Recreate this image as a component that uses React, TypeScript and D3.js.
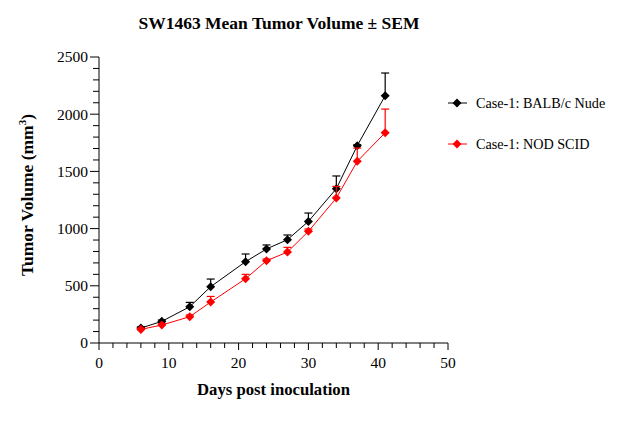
import * as d3 from "d3";

// Measurement days and mean tumour volume (mm³) per group, with SEM
const days = [6, 9, 13, 16, 21, 24, 27, 30, 34, 37, 41];
const nudeMean = [131, 189, 317, 492, 711, 822, 903, 1063, 1349, 1725, 2162];
const nudeSem = [10, 12, 38, 67, 67, 35, 41, 73, 111, 8, 198];
const scidMean = [119, 157, 230, 358, 562, 719, 795, 976, 1267, 1588, 1838];
const scidSem = [10, 12, 15, 49, 38, 15, 41, 20, 102, 116, 207];

const xTicks = [0, 10, 20, 30, 40, 50];
const yTicks = [0, 500, 1000, 1500, 2000, 2500];

const seriesNames = ["Case-1: BALB/c Nude", "Case-1: NOD SCID"];
const seriesColors = ["#000000", "#ff0000"];

const width = 619;
const height = 433;
const margin = { top: 57, right: 171, bottom: 90, left: 99 };
const font = "'Liberation Serif', 'Times New Roman', serif";

export default function App() {
  const innerW = width - margin.left - margin.right;
  const innerH = height - margin.top - margin.bottom;

  const x = d3.scaleLinear().domain([0, 50]).range([0, innerW]);
  const y = d3.scaleLinear().domain([0, 2500]).range([innerH, 0]);

  const series = [
    { name: seriesNames[0], color: seriesColors[0], mean: nudeMean, sem: nudeSem },
    { name: seriesNames[1], color: seriesColors[1], mean: scidMean, sem: scidSem },
  ];

  const line = d3
    .line<number>()
    .x((_, i) => x(days[i]))
    .y((d) => y(d));

  const diamond = d3.symbol().type(d3.symbolDiamond2).size(52)() || "";

  const xMinor = d3.range(0, 51, 2);
  const yMinor = d3.range(0, 2501, 100);

  return (
    <svg
      width={width}
      height={height}
      style={{ display: "block", position: "absolute", left: 0, top: 0 }}
      fontFamily={font}
    >
      <rect width={width} height={height} fill="#fff" />
      <text x={279} y={29} textAnchor="middle" fontSize={17.5} fontWeight="bold">
        SW1463 Mean Tumor Volume ± SEM
      </text>

      <g transform={`translate(${margin.left}, ${margin.top})`}>
        {/* Y axis */}
        <line x1={0} x2={0} y1={0} y2={innerH} stroke="#000" />
        {yMinor.map((v) => (
          <line
            key={`ym-${v}`}
            x1={v % 500 === 0 ? -9 : -6}
            x2={0}
            y1={y(v)}
            y2={y(v)}
            stroke="#000"
          />
        ))}
        {yTicks.map((v) => (
          <text
            key={`yt-${v}`}
            x={-11}
            y={y(v)}
            dy="0.35em"
            textAnchor="end"
            fontSize={15.5}
          >
            {v}
          </text>
        ))}

        {/* X axis */}
        <line x1={0} x2={innerW} y1={innerH} y2={innerH} stroke="#000" />
        {xMinor.map((v) => (
          <line
            key={`xm-${v}`}
            x1={x(v)}
            x2={x(v)}
            y1={innerH}
            y2={innerH + (v % 10 === 0 ? 7 : 5)}
            stroke="#000"
          />
        ))}
        {xTicks.map((v) => (
          <text
            key={`xt-${v}`}
            x={x(v)}
            y={innerH + 25}
            textAnchor="middle"
            fontSize={15.5}
          >
            {v}
          </text>
        ))}

        {/* Series: lines, upward SEM bars, diamond markers */}
        {series.map((s) => (
          <g key={s.name}>
            {s.mean.map((m, i) => {
              const cx = x(days[i]);
              const top = y(m + s.sem[i]);
              return (
                <g key={i}>
                  <line x1={cx} x2={cx} y1={y(m)} y2={top} stroke={s.color} strokeWidth={1.2} />
                  <line x1={cx - 4} x2={cx + 4} y1={top} y2={top} stroke={s.color} strokeWidth={1.2} />
                </g>
              );
            })}
            <path d={line(s.mean) || ""} fill="none" stroke={s.color} strokeWidth={1} />
            {s.mean.map((m, i) => (
              <path
                key={`pt-${i}`}
                d={diamond}
                transform={`translate(${x(days[i])}, ${y(m)})`}
                fill={s.color}
              />
            ))}
          </g>
        ))}
      </g>

      {/* Axis titles */}
      <text
        x={margin.left + innerW / 2}
        y={395}
        textAnchor="middle"
        fontSize={16.7}
        fontWeight="bold"
      >
        Days post inoculation
      </text>
      <text
        transform={`translate(33, ${margin.top + innerH / 2 - 5}) rotate(-90)`}
        textAnchor="middle"
        fontSize={17.5}
        fontWeight="bold"
      >
        Tumor Volume (mm<tspan dy="-7" fontSize={11}>3</tspan>
        <tspan dy="7">)</tspan>
      </text>

      {/* Legend */}
      {series.map((s, i) => {
        const ly = 103 + i * 41;
        return (
          <g key={`lg-${s.name}`}>
            <line x1={448} x2={467} y1={ly} y2={ly} stroke={s.color} strokeWidth={1} />
            <path d={diamond} transform={`translate(457, ${ly})`} fill={s.color} />
            <text x={476} y={ly} dy="0.35em" fontSize={14.2}>
              {s.name}
            </text>
          </g>
        );
      })}
    </svg>
  );
}
